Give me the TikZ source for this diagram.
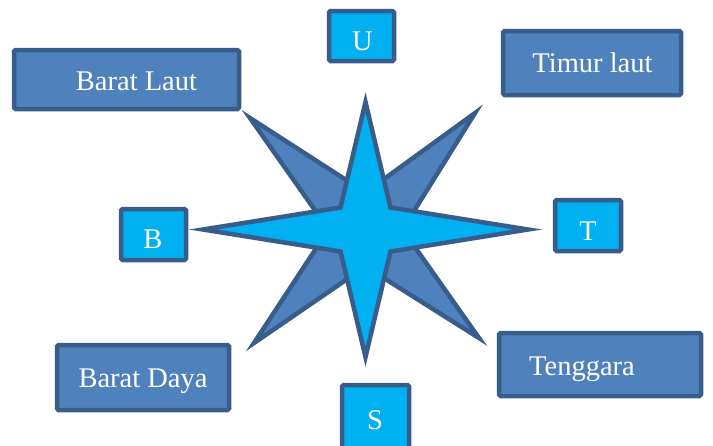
\documentclass[tikz,border=0pt]{standalone}
\usepackage{fontspec}
\setmainfont{Liberation Serif}
\definecolor{boxblue}{HTML}{4F81BD}
\definecolor{edgeblue}{HTML}{385D8A}
\definecolor{cyanblue}{HTML}{00B0F0}
\tikzset{
  bigbox/.style={draw=edgeblue, fill=boxblue, line width=4.5pt, rounded corners=1.5pt, inner sep=0pt},
  smallbox/.style={draw=edgeblue, fill=cyanblue, line width=4.5pt, rounded corners=1.5pt, inner sep=0pt},
  lbl/.style={text=white, font=\fontsize{28.5}{33}\selectfont, anchor=base, inner sep=0pt},
  starline/.style={draw=edgeblue, line width=4.5pt, line join=miter, miter limit=10}
}
\begin{document}
\begin{tikzpicture}[x=1pt,y=-1pt]
\useasboundingbox (0,0) rectangle (713,445);
% back star (diagonal)
\path[starline, fill=boxblue] (250,118) -- (365.5,192.5) -- (475,113) -- (402.5,229.5)
  -- (479,338) -- (365.5,266.5) -- (254,343) -- (328.5,229.5) -- cycle;
% front star (cardinal)
\path[starline, fill=cyanblue] (365.5,102) -- (390.5,207.5) -- (528,229.5) -- (390.5,251.5)
  -- (365.5,357) -- (340.5,251.5) -- (203,229.5) -- (340.5,207.5) -- cycle;
% boxes
\node[bigbox, minimum width=225pt, minimum height=59pt] (bl) at (126.5,79.5) {};
\node[lbl] (blt) at (136.5,90) {Barat Laut};
\node[bigbox, minimum width=178pt, minimum height=64pt] (tl) at (592,63) {};
\node[lbl] (tlt) at (592.5,72) {Timur laut};
\node[bigbox, minimum width=172pt, minimum height=65pt] (bd) at (143,377.5) {};
\node[lbl] (bdt) at (143,387) {Barat Daya};
\node[bigbox, minimum width=202pt, minimum height=63pt] (tg) at (600,364.5) {};
\node[lbl] (tgt) at (582,375) {Tenggara};
\node[smallbox, minimum width=65pt, minimum height=50pt] (u) at (361.5,36) {};
\node[lbl] (ut) at (362.5,50) {U};
\node[smallbox, minimum width=65pt, minimum height=51pt] (b) at (153.5,234.5) {};
\node[lbl] (bt) at (153,248) {B};
\node[smallbox, minimum width=66pt, minimum height=51pt] (t) at (588,225.5) {};
\node[lbl] (tt) at (588,240) {T};
\node[smallbox, minimum width=67pt, minimum height=70pt] (s) at (375.5,420) {};
\node[lbl] (st) at (375,429) {S};
\end{tikzpicture}
\end{document}
